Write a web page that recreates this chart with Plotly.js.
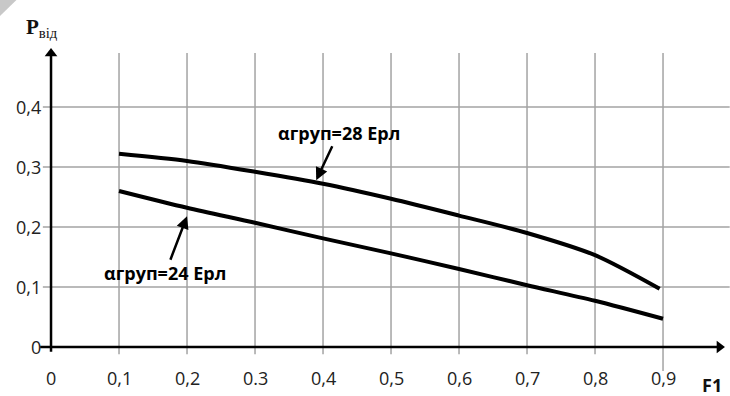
<!DOCTYPE html>
<html>
<head>
<meta charset="utf-8">
<script src="https://cdn.plot.ly/plotly-3.0.1.min.js"></script>
<style>html,body{margin:0;padding:0;background:#fff;}#chart{width:730px;height:396px;}</style>
</head>
<body>
<div id="chart"></div>
<script>
// ---- data ----
const xTickVals = [0, 0.1, 0.2, 0.3, 0.4, 0.5, 0.6, 0.7, 0.8, 0.9];
const xTickText = ["0", "0,1", "0,2", "0.3", "0,4", "0,5", "0,6", "0,7", "0,8", "0,9"];
const yTickVals = [0, 0.1, 0.2, 0.3, 0.4];
const yTickText = ["0", "0,1", "0,2", "0,3", "0,4"];

const f1Upper = [0.1, 0.2, 0.3, 0.4, 0.5, 0.6, 0.7, 0.8, 0.895];
const pUpper28 = [0.322, 0.31, 0.292, 0.272, 0.247, 0.219, 0.19, 0.153, 0.097];
const f1Lower = [0.1, 0.2, 0.3, 0.4, 0.5, 0.6, 0.7, 0.8, 0.9];
const pLower24 = [0.26, 0.232, 0.207, 0.181, 0.156, 0.13, 0.103, 0.077, 0.047];

const label28 = "αгруп=28 Ерл";
const label24 = "αгруп=24 Ерл";

// ---- style ----
const FONT = "Open Sans, Liberation Sans, sans-serif";
const GRID = "#a3a3a3";

const traces = [
  // axis lines with arrow heads (decoration)
  {x: [-0.016, 0.98], y: [0, 0], mode: "lines", line: {color: "#000", width: 2.5}, hoverinfo: "skip", cliponaxis: false},
  {x: [0, 0], y: [-0.008, 0.485], mode: "lines", line: {color: "#000", width: 2.5}, hoverinfo: "skip", cliponaxis: false},
  {x: [0.983, 0], y: [0, 0.489], mode: "markers", cliponaxis: false, hoverinfo: "skip",
   marker: {symbol: ["triangle-right", "triangle-up"], size: 11, color: "#000", line: {width: 0}}},
  // data curves
  {x: f1Upper, y: pUpper28, mode: "lines", line: {color: "#000", width: 4, shape: "spline", smoothing: 0.8}, hoverinfo: "skip"},
  {x: f1Lower, y: pLower24, mode: "lines", line: {color: "#000", width: 4, shape: "spline", smoothing: 0.8}, hoverinfo: "skip"}
];

const shapes = [];
// vertical grid lines
xTickVals.slice(1).forEach((v, i) => {
  const last = i === xTickVals.length - 2;
  shapes.push({type: "line", xref: "x", yref: "y", x0: v, x1: v, y0: last ? -0.04 : -0.012, y1: 0.49,
    line: {color: GRID, width: 1.5}, layer: "below"});
});
// horizontal grid lines
yTickVals.slice(1).forEach(v => {
  shapes.push({type: "line", xref: "x", yref: "y", x0: -0.012, x1: 0.998, y0: v, y1: v,
    line: {color: GRID, width: 1.5}, layer: "below"});
});
// page curl corner
shapes.push({type: "path", xref: "paper", yref: "paper",
  path: "M -0.058 1.144 L -0.034 1.144 L -0.058 1.095 Z", fillcolor: "#c8c8c8", line: {width: 0}});

const ann = [];
// tick labels
xTickVals.forEach((v, i) => {
  ann.push({x: v, y: 0, xref: "x", yref: "y", text: xTickText[i], showarrow: false,
    yshift: -31, font: {family: FONT, size: 18, color: "#222"}});
});
yTickVals.forEach((v, i) => {
  ann.push({x: 0, y: v, xref: "x", yref: "y", text: yTickText[i], showarrow: false,
    xanchor: "right", xshift: -8, font: {family: FONT, size: 18, color: "#222"}});
});
// axis titles (paper coordinates, outside plot range)
ann.push({x: 0.003, y: 1.058, xref: "paper", yref: "paper", xanchor: "center", yanchor: "middle", showarrow: false,
  text: "<b>P</b><sub>від</sub>", font: {family: "Liberation Serif, DejaVu Serif, serif", size: 21, color: "#111"}});
ann.push({x: 0.974, y: -0.034, xref: "paper", yref: "paper", xanchor: "center", yanchor: "middle", showarrow: false,
  text: "<b>F1</b>", font: {family: FONT, size: 18, color: "#111"}});
// curve labels with pointer arrows
ann.push({x: 0.39, y: 0.278, ax: 0.423, ay: 0.357, xref: "x", yref: "y", axref: "x", ayref: "y",
  showarrow: true, arrowhead: 2, arrowsize: 1, arrowwidth: 2.5, arrowcolor: "#000", standoff: 0,
  text: "<b>" + label28 + "</b>", font: {family: FONT, size: 18, color: "#000"}});
ann.push({x: 0.2, y: 0.218, ax: 0.168, ay: 0.123, xref: "x", yref: "y", axref: "x", ayref: "y",
  showarrow: true, arrowhead: 2, arrowsize: 1, arrowwidth: 2.5, arrowcolor: "#000", standoff: 0,
  text: "<b>" + label24 + "</b>", font: {family: FONT, size: 18, color: "#000"}});

const layout = {
  width: 730, height: 396,
  margin: {l: 40, r: 0, t: 47, b: 22},
  paper_bgcolor: "#fff", plot_bgcolor: "#fff",
  showlegend: false,
  xaxis: {range: [-0.0162, 0.9985], showgrid: false, zeroline: false, showticklabels: false, showline: false, ticks: ""},
  yaxis: {range: [-0.045, 0.5], showgrid: false, zeroline: false, showticklabels: false, showline: false, ticks: ""},
  shapes: shapes,
  annotations: ann
};

Plotly.newPlot("chart", traces, layout, {staticPlot: true, displayModeBar: false});
</script>
</body>
</html>
